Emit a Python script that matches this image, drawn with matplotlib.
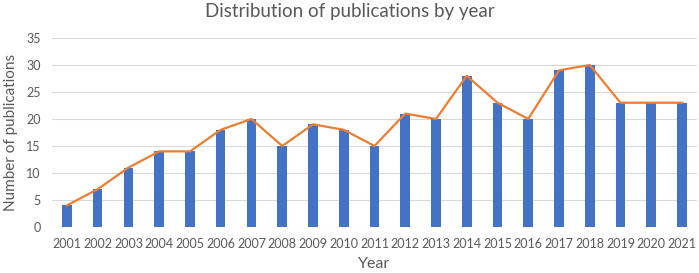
import numpy as np
import matplotlib
matplotlib.use("Agg")
import matplotlib.pyplot as plt

plt.rcParams['font.family'] = ['Lato', 'DejaVu Sans']

# data
years = ['2001', '2002', '2003', '2004', '2005', '2006', '2007', '2008', '2009', '2010', '2011',
         '2012', '2013', '2014', '2015', '2016', '2017', '2018', '2019', '2020', '2021']
counts = [4, 7, 11, 14, 14, 18, 20, 15, 19, 18, 15, 21, 20, 28, 23, 20, 29, 30, 23, 23, 23]

text_col = '#595959'

fig = plt.figure(figsize=(6.99, 2.73), dpi=100)
ax = fig.add_axes([0.0738, 0.1685, 0.9239, 0.6925])

x = np.arange(len(years))
ax.bar(x, counts, width=0.31, color='#4472C4', zorder=2)
ax.plot(x, counts, color='#ED7D31', lw=1.6, zorder=3)

ax.set_xlim(-0.5, len(years) - 0.5)
ax.set_ylim(0, 35)
ax.set_yticks(np.arange(0, 36, 5))
ax.set_xticks(x)
ax.set_xticklabels(years)
ax.grid(axis='y', color='#D9D9D9', lw=0.8, zorder=0)
for s in ax.spines.values():
    s.set_visible(False)
ax.tick_params(length=0, labelsize=9, colors=text_col, pad=8)
ax.tick_params(axis='y', pad=8)

ax.set_xlabel('Year', fontsize=11.5, color=text_col, labelpad=5)
ax.set_ylabel('Number of publications', fontsize=11, color=text_col, labelpad=6)
fig.suptitle('Distribution of publications by year', fontsize=13.5, color=text_col, y=0.99)

fig.savefig('out.png', dpi=100)
